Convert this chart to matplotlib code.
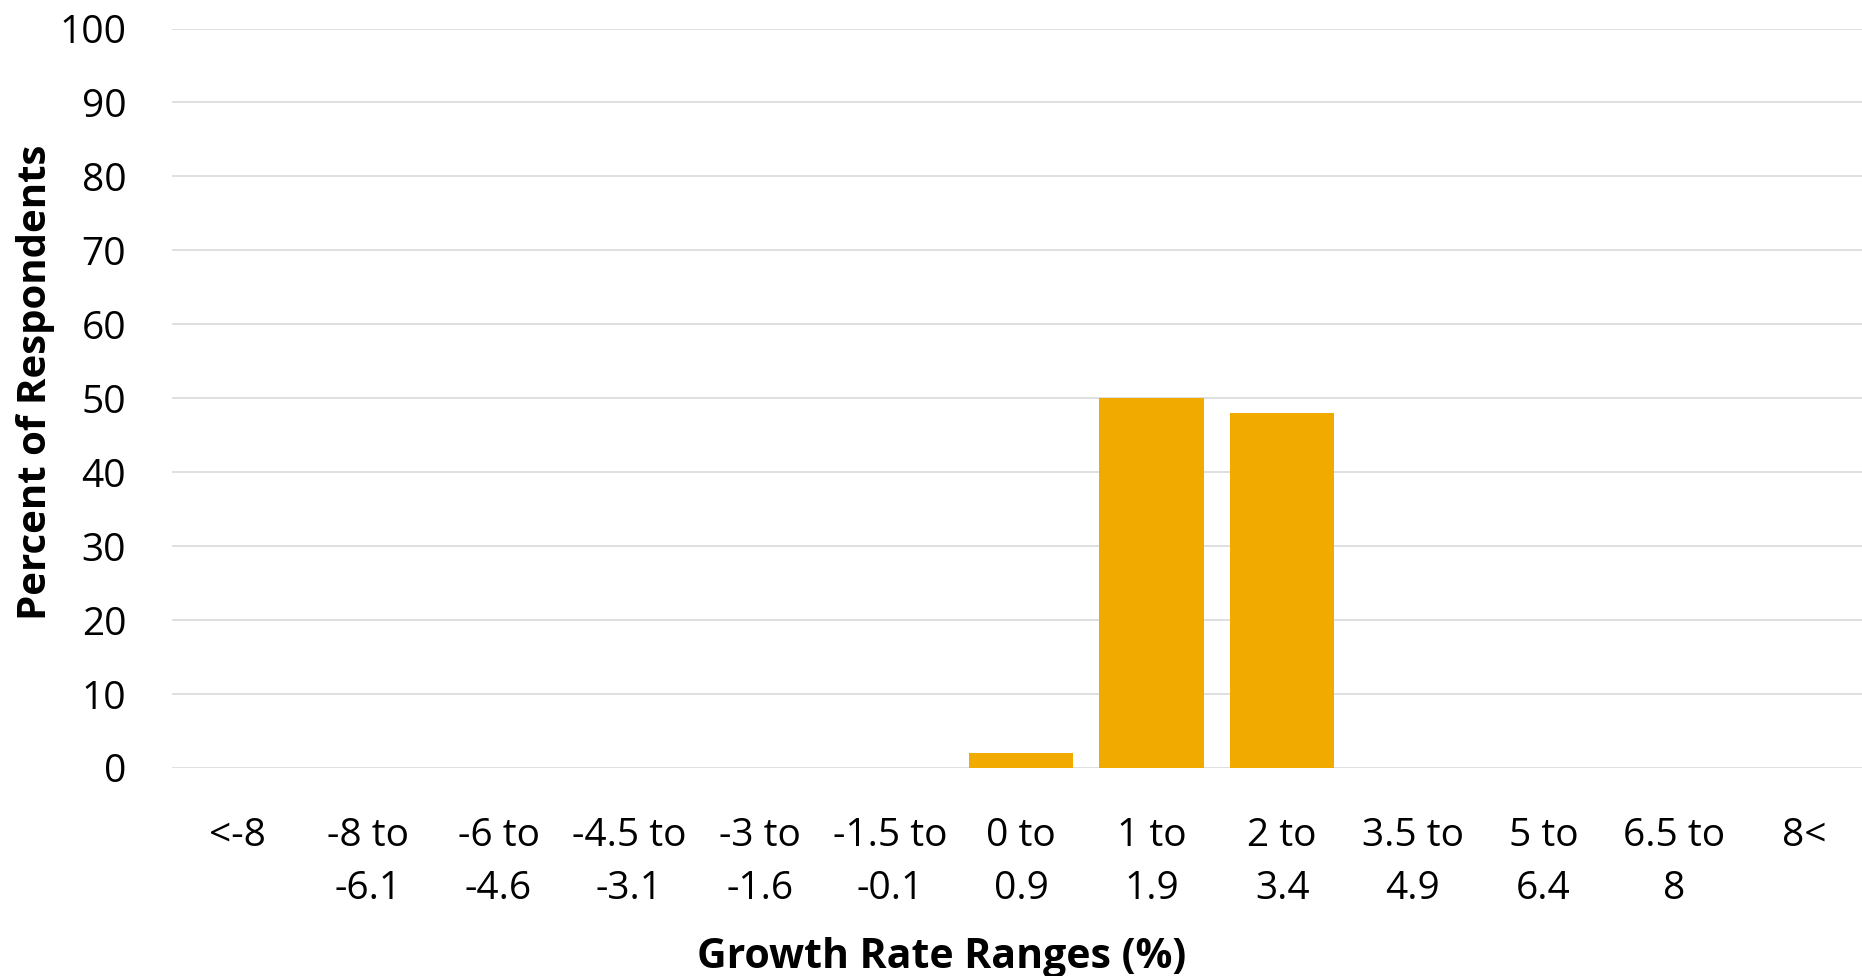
import matplotlib
matplotlib.use("Agg")
import matplotlib.pyplot as plt

plt.rcParams['font.family'] = ['Open Sans', 'DejaVu Sans']

categories = ["<-8", "-8 to\n-6.1", "-6 to\n-4.6", "-4.5 to\n-3.1", "-3 to\n-1.6",
              "-1.5 to\n-0.1", "0 to\n0.9", "1 to\n1.9", "2 to\n3.4", "3.5 to\n4.9",
              "5 to\n6.4", "6.5 to\n8", "8<"]
values = [0, 0, 0, 0, 0, 0, 2, 50, 48, 0, 0, 0, 0]
yticks = [0, 10, 20, 30, 40, 50, 60, 70, 80, 90, 100]

W, H = 1862, 976
fig = plt.figure(figsize=(W / 100, H / 100), dpi=100)
left, right = 172 / W, 1870 / W
bottom, top = 1 - 768 / H, 1 - 28.5 / H
ax = fig.add_axes([left, bottom, right - left, top - bottom])

x = list(range(len(categories)))
ax.bar(x, values, width=0.8, color='#F1AB00', zorder=3)

ax.set_xlim(-0.5, len(categories) - 0.5)
ax.set_ylim(0, 100)
ax.set_yticks(yticks)
ax.set_xticks(x)
ax.set_xticklabels(categories, fontsize=28, linespacing=1.53)
ax.tick_params(axis='y', labelsize=28, length=0, pad=33)
ax.tick_params(axis='x', length=0, pad=35)
ax.yaxis.grid(True, color='#D9D9D9', linewidth=1.2, zorder=0)
ax.set_axisbelow(True)
for s in ax.spines.values():
    s.set_visible(False)

ax.set_xlabel("Growth Rate Ranges (%)", fontsize=29.5, fontweight='bold')
ax.xaxis.set_label_coords(0.453, -0.229)
ax.set_ylabel("Percent of Respondents", fontsize=29, fontweight='bold')
ax.yaxis.set_label_coords(-0.069, 0.522)

fig.savefig("out.png", dpi=100)
